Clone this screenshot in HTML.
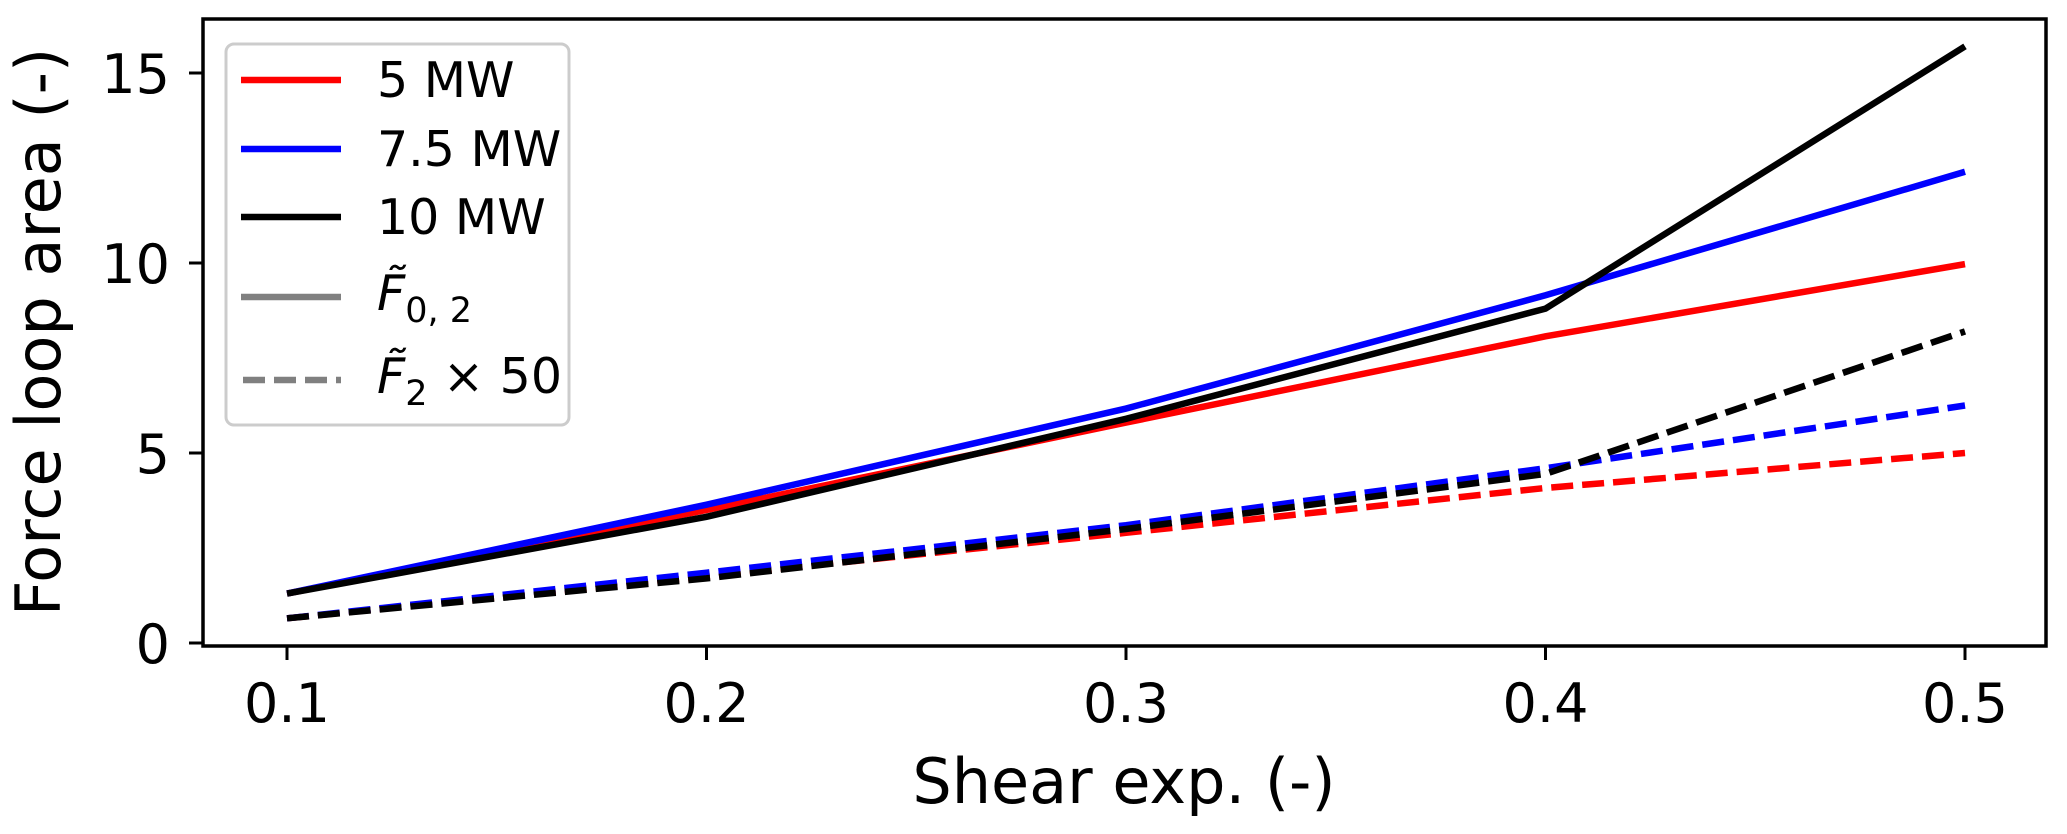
<!DOCTYPE html>
<html><head><meta charset="utf-8"><style>
body{margin:0;background:#fff;}
svg{display:block;font-family:"DejaVu Sans","Liberation Sans",sans-serif;}
</style></head><body>
<svg id="chart" width="2067" height="834" viewBox="0 0 2067 834">
<g id="plot"></g>
<rect x="203" y="19" width="1843" height="627" fill="none" stroke="#000" stroke-width="3.5"/>
<g id="xt"></g>
<g id="yt"></g>
<text x="1124" y="803" font-size="62" text-anchor="middle">Shear exp. (-)</text>
<text transform="translate(60,332) rotate(-90)" font-size="62" text-anchor="middle">Force loop area (-)</text>
<g>
<rect x="226" y="44" width="343" height="381" rx="8" fill="#fff" fill-opacity="0.8" stroke="#ccc" stroke-width="3"/>
<line x1="241" y1="80" x2="341" y2="80" stroke="#ff0000" stroke-width="6.5"/>
<text x="377" y="97" font-size="49">5 MW</text>
<line x1="241" y1="149" x2="341" y2="149" stroke="#0000ff" stroke-width="6.5"/>
<text x="377" y="166" font-size="49">7.5 MW</text>
<line x1="241" y1="217" x2="341" y2="217" stroke="#000" stroke-width="6.5"/>
<text x="377" y="234" font-size="49">10 MW</text>
<line x1="241" y1="297" x2="341" y2="297" stroke="#808080" stroke-width="6.5"/>
<text x="377" y="310" font-size="49" font-style="italic">F̃<tspan font-size="35" font-style="normal" dy="12">0, 2</tspan></text>
<line x1="243" y1="380" x2="341" y2="380" stroke="#808080" stroke-width="6.5" stroke-dasharray="22,9"/>
<text x="377" y="393" font-size="49" font-style="italic">F̃<tspan font-size="35" font-style="normal" dy="12">2</tspan><tspan font-style="normal" dy="-12"> × 50</tspan></text>
</g>
</svg>
<script>
const xs = [0.1, 0.2, 0.3, 0.4, 0.5];
const s5 = [1.3, 3.5, 5.8, 8.07, 9.97];
const s75 = [1.3, 3.64, 6.17, 9.15, 12.4];
const s10 = [1.3, 3.32, 5.9, 8.8, 15.7];
const d5 = [0.65, 1.75, 2.9, 4.08, 5.0];
const d75 = [0.65, 1.85, 3.1, 4.6, 6.25];
const d10 = [0.65, 1.7, 3.0, 4.45, 8.2];
const xTicks = [0.1, 0.2, 0.3, 0.4, 0.5];
const yTicks = [0, 5, 10, 15];
const NS = "http://www.w3.org/2000/svg";
function X(v){return 287 + (v-0.1)/0.4*(1965-287);}
function Y(v){return 643 - v*38.0;}
const plot = document.getElementById('plot');
function line(data, color, dashed, name){
  const p = document.createElementNS(NS,'polyline');
  p.setAttribute('points', data.map((d,i)=>X(xs[i])+','+Y(d)).join(' '));
  p.setAttribute('fill','none');
  p.setAttribute('stroke',color);
  p.setAttribute('stroke-width','6.5');
  if(dashed) p.setAttribute('stroke-dasharray','22,9');
  
  
  plot.appendChild(p);
}
line(d5,'#ff0000',true,'series-5mw-f2');
line(d75,'#0000ff',true,'series-7-5mw-f2');
line(d10,'#000000',true,'series-10mw-f2');
line(s5,'#ff0000',false,'series-5mw-f02');
line(s75,'#0000ff',false,'series-7-5mw-f02');
line(s10,'#000000',false,'series-10mw-f02');
const xt = document.getElementById('xt');
xTicks.forEach(t=>{
  const l = document.createElementNS(NS,'line');
  l.setAttribute('x1',X(t)); l.setAttribute('x2',X(t));
  l.setAttribute('y1',646); l.setAttribute('y2',660);
  l.setAttribute('stroke','#000'); l.setAttribute('stroke-width','3');
  
  
  xt.appendChild(l);
  const tx = document.createElementNS(NS,'text');
  tx.setAttribute('x',X(t)); tx.setAttribute('y',722);
  tx.setAttribute('font-size','54'); tx.setAttribute('text-anchor','middle');
  tx.textContent = t.toFixed(1);
  
  
  xt.appendChild(tx);
});
const yt = document.getElementById('yt');
yTicks.forEach(t=>{
  const l = document.createElementNS(NS,'line');
  l.setAttribute('x1',189); l.setAttribute('x2',203);
  l.setAttribute('y1',Y(t)); l.setAttribute('y2',Y(t));
  l.setAttribute('stroke','#000'); l.setAttribute('stroke-width','3');
  
  
  yt.appendChild(l);
  const tx = document.createElementNS(NS,'text');
  tx.setAttribute('x',170); tx.setAttribute('y',Y(t)+20);
  tx.setAttribute('font-size','54'); tx.setAttribute('text-anchor','end');
  tx.textContent = String(t);
  
  
  yt.appendChild(tx);
});
</script>
</body></html>
